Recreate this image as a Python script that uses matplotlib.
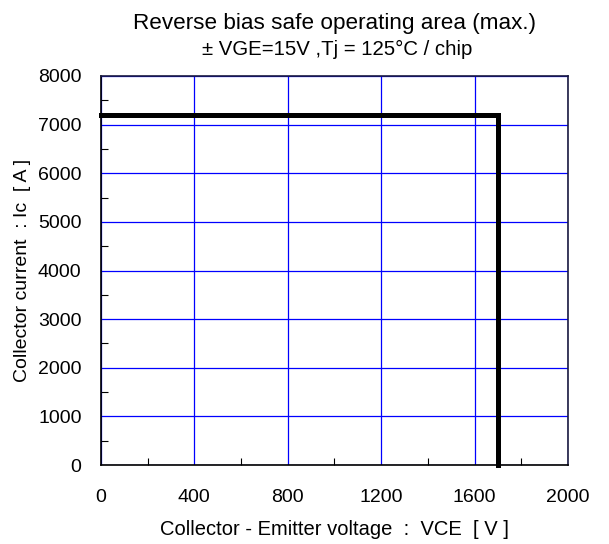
import matplotlib
matplotlib.use("Agg")
import matplotlib.pyplot as plt
from matplotlib.ticker import MultipleLocator

plt.rcParams['font.family'] = ['Liberation Sans', 'DejaVu Sans']

# RBSOA boundary (corner points)
vce = [0, 1700, 1700]
ic = [7200, 7200, 0]

x_ticks = [0, 400, 800, 1200, 1600, 2000]
y_ticks = [0, 1000, 2000, 3000, 4000, 5000, 6000, 7000, 8000]

fig = plt.figure(figsize=(6.09, 5.44), dpi=100)
ax = fig.add_axes([0.1658, 0.1452, 0.7668, 0.7151])

ax.plot(vce, ic, color='black', linewidth=3.6, solid_joinstyle='miter', zorder=3, clip_on=False)

ax.set_xlim(0, 2000)
ax.set_ylim(0, 8000)
ax.set_xticks(x_ticks)
ax.set_yticks(y_ticks)
ax.xaxis.set_minor_locator(MultipleLocator(200))
ax.yaxis.set_minor_locator(MultipleLocator(500))
ax.grid(True, which='major', color='#0000ff', linewidth=0.9)
ax.tick_params(which='major', length=0, labelsize=14)
ax.tick_params(axis='x', which='major', pad=17)
ax.tick_params(axis='y', which='major', pad=14)
ax.tick_params(which='minor', direction='in', length=5, width=0.8, color='black')
for s in ax.spines.values():
    s.set_linewidth(1.2)
    s.set_color('black')
ax.spines['right'].set_color('#1a1a40')
ax.spines['top'].set_color('#1a1a40')

ax.set_xlabel('Collector - Emitter voltage  :  VCE  [ V ]', fontsize=14.5, labelpad=10)
ax.set_ylabel('Collector current  : Ic  [ A ]', fontsize=14, labelpad=5)

fig.text(0.55, 0.9461, 'Reverse bias safe operating area (max.)', ha='center', va='baseline', fontsize=16.2)
fig.text(0.553, 0.8989, '\u00b1 VGE=15V ,Tj = 125\u00b0C / chip', ha='center', va='baseline', fontsize=14.7)

fig.savefig('out.png', dpi=100)
